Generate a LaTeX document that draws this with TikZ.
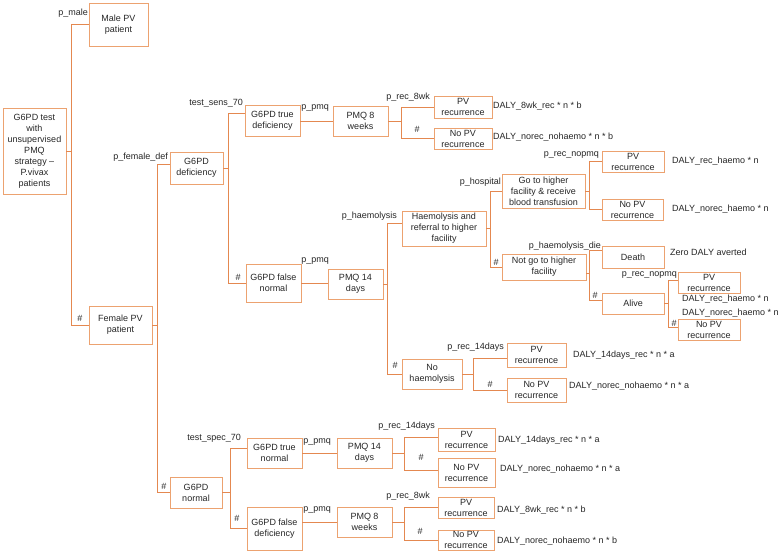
\documentclass[tikz,border=0pt]{standalone}
\usepackage{fontspec}
\setmainfont{Liberation Sans}
\usetikzlibrary{positioning,calc}
\definecolor{treeline}{RGB}{228,136,80}
\definecolor{boxline}{RGB}{236,162,112}

\begin{document}
\begin{tikzpicture}[
            x=1pt, y=-1pt,
            every node/.style={
                    font=\fontsize{9}{11}\selectfont,
                    text=black!85
                },
            event/.style={
                    draw=boxline,
                    line width=0.9pt,
                    rectangle,
                    inner sep=1pt,
                    align=center
                },
            problabel/.style={
                    anchor=east,
                    inner sep=0pt
                },
            hashmark/.style={
                    inner sep=0pt
                },
            payoff/.style={
                    anchor=west,
                    inner sep=0pt
                },
            link/.style={
                    draw=treeline,
                    line width=1pt
                }
            ]
            \useasboundingbox (0,0) rectangle (782,555);

            % Raíz y sexo
            \node[event, minimum width=63pt, minimum height=86pt] (root) at (34.5,151)
            {G6PD test\\with\\unsupervised\\PMQ\\strategy --\\P.vivax\\patients};
            \node[event, minimum width=59pt, minimum height=43pt] (male) at (118.5,24.5)
            {Male PV\\patient};
            \node[event, minimum width=63pt, minimum height=38pt] (female) at (120.5,325)
            {Female PV\\patient};
            \node[event, minimum width=53pt, minimum height=32pt] (def) at (196.5,168)
            {G6PD\\deficiency};
            \node[event, minimum width=52pt, minimum height=31pt] (normal) at (196,492.5)
            {G6PD\\normal};

            \draw[link] (root.east) -- ++(5pt,0) |- (male.west);
            \draw[link] (root.east) -- ++(5pt,0) |- (female.west);
            \draw[link] (female.east) -- ++(5pt,0) |- ([yshift=4pt]def.west);
            \draw[link] (female.east) -- ++(5pt,0) |- (normal.west);
            \node[problabel] (pMale) at (88,13) {p\_male};
            \node[hashmark] (hFemale) at (80,318) {\#};
            \node[problabel] (pFemaleDef) at (168,157) {p\_female\_def};
            \node[hashmark] (hNormal) at (164,486) {\#};

            % Rama deficiencia
            \node[event, minimum width=55pt, minimum height=31pt] (trueDef) at (272.5,121)
            {G6PD true\\deficiency};
            \node[event, minimum width=55pt, minimum height=38pt] (falseNorm) at (273.5,283)
            {G6PD false\\normal};
            \node[event, minimum width=55pt, minimum height=30pt] (pmqEightA) at (360.5,121)
            {PMQ 8\\weeks};
            \node[event, minimum width=58pt, minimum height=22pt] (recEightA) at (463,107)
            {PV\\recurrence};
            \node[event, minimum width=58pt, minimum height=21pt] (norecEightA) at (463,138.5)
            {No PV\\recurrence};
            \node[event, minimum width=55pt, minimum height=30pt] (pmqFourteenA) at (355.5,284)
            {PMQ 14\\days};

            \draw[link] (def.east) -- ++(5pt,0) |- ([yshift=8pt]trueDef.west);
            \draw[link] (def.east) -- ++(5pt,0) |- (falseNorm.west);
            \draw[link] (trueDef.east) -- (pmqEightA.west);
            \draw[link] (pmqEightA.east) -- ++(13pt,0) |- (recEightA.west);
            \draw[link] (pmqEightA.east) -- ++(13pt,0) |- (norecEightA.west);
            \draw[link] (falseNorm.east) -- (falseNorm.east -| pmqFourteenA.west);
            \node[problabel] (pSens) at (243,103) {test\_sens\_70};
            \node[hashmark] (hFalseNorm) at (238,277) {\#};
            \node[problabel] (pPmqA) at (329,108) {p\_pmq};
            \node[problabel] (pRecEightA) at (430,97) {p\_rec\_8wk};
            \node[hashmark] (hNorecEightA) at (417,129) {\#};
            \node[problabel] (pPmqB) at (329,261) {p\_pmq};
            \node[payoff] (dRecEightA) at (493,106) {DALY\_8wk\_rec * n * b};
            \node[payoff] (dNorecEightA) at (493,137) {DALY\_norec\_nohaemo * n * b};

            % Hemólisis
            \node[event, minimum width=84pt, minimum height=35pt] (haemo) at (444,228.5)
            {Haemolysis and\\referral to higher\\facility};
            \node[event, minimum width=60pt, minimum height=30pt] (noHaemo) at (432,374)
            {No\\haemolysis};
            \node[event, minimum width=83pt, minimum height=34pt] (hosp) at (543.5,191)
            {Go to higher\\facility \& receive\\blood transfusion};
            \node[event, minimum width=84pt, minimum height=26pt] (noHosp) at (544,267)
            {Not go to higher\\facility};
            \node[event, minimum width=62pt, minimum height=21pt] (recHosp) at (633,161.5)
            {PV\\recurrence};
            \node[event, minimum width=61pt, minimum height=21pt] (norecHosp) at (632.5,209.5)
            {No PV\\recurrence};
            \node[event, minimum width=62pt, minimum height=22pt] (death) at (633,257)
            {Death};
            \node[event, minimum width=62pt, minimum height=21pt] (alive) at (633,303.5)
            {Alive};
            \node[event, minimum width=62pt, minimum height=21pt] (recAlive) at (709,282.5)
            {PV\\recurrence};
            \node[event, minimum width=62pt, minimum height=21pt] (norecAlive) at (709,329.5)
            {No PV\\recurrence};
            \node[event, minimum width=59pt, minimum height=24pt] (recFourteenA) at (536.5,355)
            {PV\\recurrence};
            \node[event, minimum width=59pt, minimum height=24pt] (norecFourteenA) at (536.5,390)
            {No PV\\recurrence};

            \draw[link] (pmqFourteenA.east) -- ++(4pt,0) |- ([yshift=5pt]haemo.west);
            \draw[link] (pmqFourteenA.east) -- ++(4pt,0) |- (noHaemo.west);
            \draw[link] (haemo.east) -- ++(4pt,0) |- (hosp.west);
            \draw[link] (haemo.east) -- ++(4pt,0) |- (noHosp.west);
            \draw[link] (hosp.east) -- ++(4pt,0) |- (recHosp.west);
            \draw[link] (hosp.east) -- ++(4pt,0) |- (norecHosp.west);
            \draw[link] ([yshift=-6pt]noHosp.east) -- ++(3pt,0) |- ([yshift=7pt]death.west);
            \draw[link] ([yshift=-6pt]noHosp.east) -- ++(3pt,0) |- ([yshift=3pt]alive.west);
            \draw[link] (alive.east) -- ++(4pt,0) |- ([yshift=2pt]recAlive.west);
            \draw[link] (alive.east) -- ++(4pt,0) |- ([yshift=2pt]norecAlive.west);
            \draw[link] (noHaemo.east) -- ++(11pt,0) |- ([yshift=-3pt]recFourteenA.west);
            \draw[link] (noHaemo.east) -- ++(11pt,0) |- (norecFourteenA.west);
            \node[problabel] (pHaemo) at (397,216) {p\_haemolysis};
            \node[hashmark] (hNoHaemo) at (395,365) {\#};
            \node[problabel] (pHosp) at (501,182) {p\_hospital};
            \node[hashmark] (hNoHosp) at (496,262) {\#};
            \node[problabel] (pRecHosp) at (599,155) {p\_rec\_nopmq};
            \node[problabel] (pDie) at (601,246) {p\_haemolysis\_die};
            \node[hashmark] (hAlive) at (595,295) {\#};
            \node[problabel] (pRecAlive) at (677,275) {p\_rec\_nopmq};
            \node[hashmark] (hNorecAlive) at (674,323) {\#};
            \node[problabel] (pRecFourteenA) at (504,347) {p\_rec\_14days};
            \node[hashmark] (hNorecFourteenA) at (490,384) {\#};
            \node[payoff] (dRecHosp) at (672,161) {DALY\_rec\_haemo * n};
            \node[payoff] (dNorecHosp) at (672,209) {DALY\_norec\_haemo * n};
            \node[payoff] (dDeath) at (670,252) {Zero DALY averted};
            \node[payoff] (dRecAlive) at (682,299) {DALY\_rec\_haemo * n};
            \node[payoff] (dNorecAlive) at (682,313) {DALY\_norec\_haemo * n};
            \node[payoff] (dRecFourteenA) at (573,355) {DALY\_14days\_rec * n * a};
            \node[payoff] (dNorecFourteenA) at (569,386) {DALY\_norec\_nohaemo * n * a};

            % Rama normal
            \node[event, minimum width=55pt, minimum height=30pt] (trueNorm) at (274.5,453)
            {G6PD true\\normal};
            \node[event, minimum width=55pt, minimum height=43pt] (falseDef) at (274.5,528.5)
            {G6PD false\\deficiency};
            \node[event, minimum width=55pt, minimum height=30pt] (pmqFourteenB) at (364.5,453)
            {PMQ 14\\days};
            \node[event, minimum width=57pt, minimum height=23pt] (recFourteenB) at (466.5,439.5)
            {PV\\recurrence};
            \node[event, minimum width=57pt, minimum height=29pt] (norecFourteenB) at (466.5,472.5)
            {No PV\\recurrence};
            \node[event, minimum width=55pt, minimum height=30pt] (pmqEightB) at (364.5,522)
            {PMQ 8\\weeks};
            \node[event, minimum width=56pt, minimum height=21pt] (recEightB) at (466,507.5)
            {PV\\recurrence};
            \node[event, minimum width=56pt, minimum height=20pt] (norecEightB) at (466,540)
            {No PV\\recurrence};

            \draw[link] (normal.east) -- ++(8pt,0) |- ([yshift=5pt]trueNorm.west);
            \draw[link] (normal.east) -- ++(8pt,0) |- (falseDef.west);
            \draw[link] (trueNorm.east) -- (pmqFourteenB.west);
            \draw[link] (pmqFourteenB.east) -- ++(12pt,0) |- ([yshift=2pt]recFourteenB.west);
            \draw[link] (pmqFourteenB.east) -- ++(12pt,0) |- ([yshift=2pt]norecFourteenB.west);
            \draw[link] (falseDef.east |- pmqEightB.west) -- (pmqEightB.west);
            \draw[link] (pmqEightB.east) -- ++(12pt,0) |- (recEightB.west);
            \draw[link] (pmqEightB.east) -- ++(12pt,0) |- (norecEightB.west);
            \node[problabel] (pSpec) at (241,438) {test\_spec\_70};
            \node[hashmark] (hFalseDef) at (237,518) {\#};
            \node[problabel] (pPmqC) at (331,442) {p\_pmq};
            \node[problabel] (pRecFourteenB) at (435,426) {p\_rec\_14days};
            \node[hashmark] (hNorecFourteenB) at (421,457) {\#};
            \node[problabel] (pPmqD) at (331,510) {p\_pmq};
            \node[problabel] (pRecEightB) at (430,496) {p\_rec\_8wk};
            \node[hashmark] (hNorecEightB) at (420,531) {\#};
            \node[payoff] (dRecFourteenB) at (498,440) {DALY\_14days\_rec * n * a};
            \node[payoff] (dNorecFourteenB) at (500,469) {DALY\_norec\_nohaemo * n * a};
            \node[payoff] (dRecEightB) at (497,510) {DALY\_8wk\_rec * n * b};
            \node[payoff] (dNorecEightB) at (497,541) {DALY\_norec\_nohaemo * n * b};

        \end{tikzpicture}
\end{document}
